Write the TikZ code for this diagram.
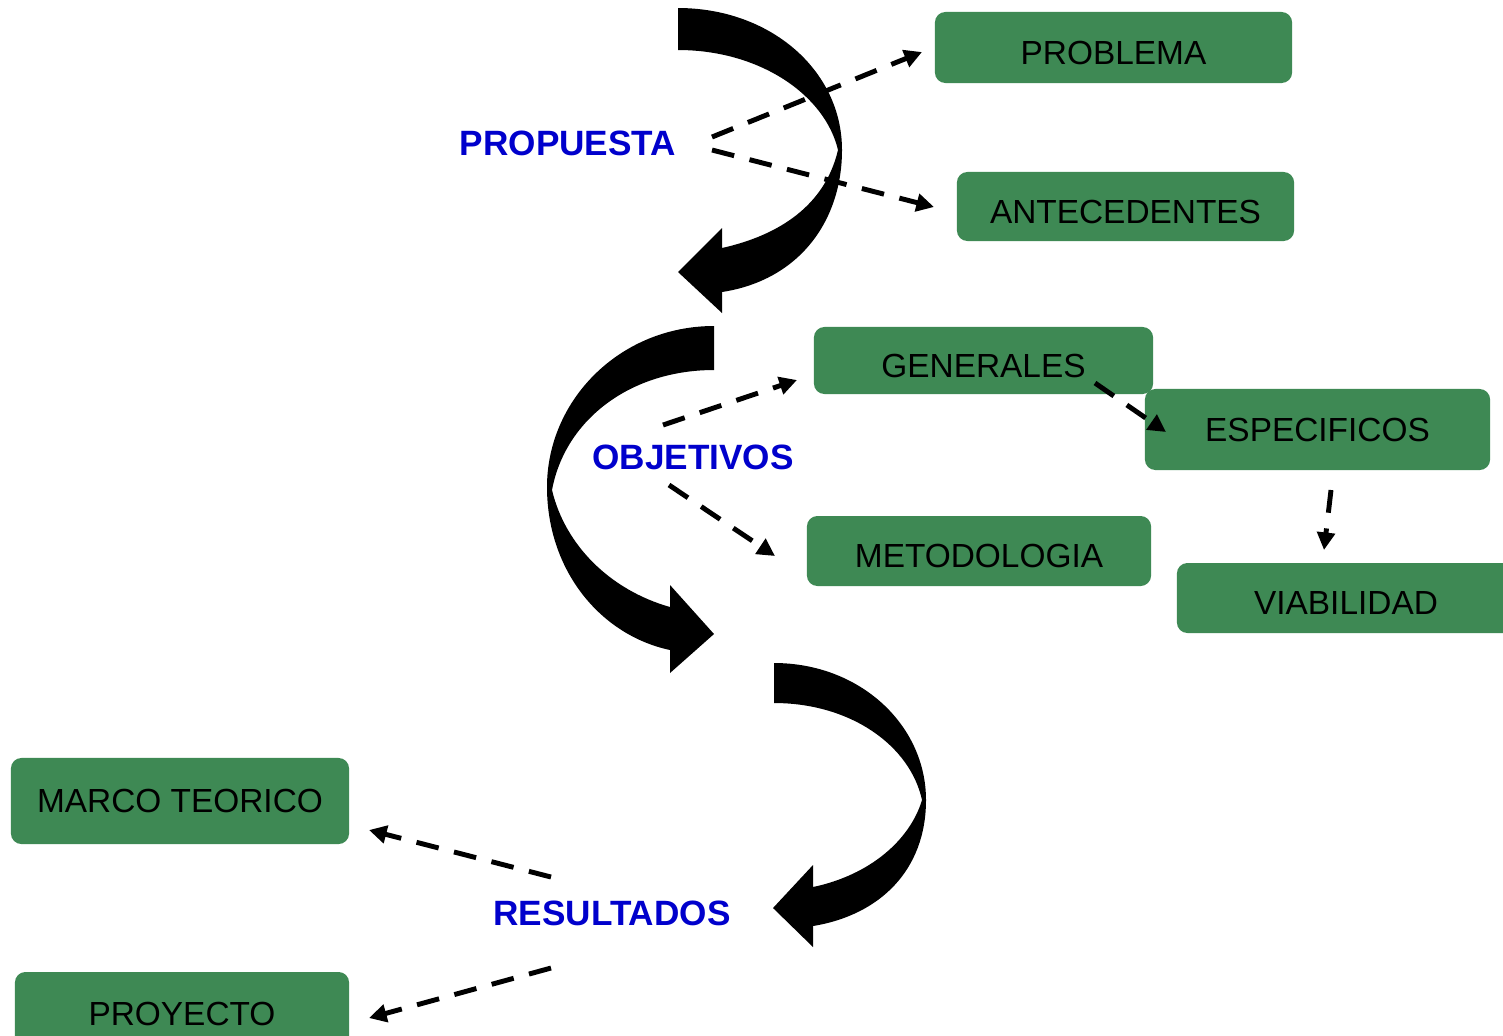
\documentclass[tikz,border=0pt]{standalone}
\usepackage{fontspec}
\setmainfont{Liberation Sans}
\usetikzlibrary{arrows.meta}
\definecolor{boxgreen}{RGB}{62,137,84}
\definecolor{lblblue}{RGB}{0,0,204}
\tikzset{
  box/.style={draw=none, fill=boxgreen, rounded corners=3pt, inner sep=0pt, text=black,
    font=\fontsize{9.5}{12}\selectfont},
  lowtext/.style={text height=9.6pt, text depth=0pt},
  lbl/.style={text=lblblue, inner sep=0pt, font=\fontsize{10}{12}\selectfont\bfseries},
  dasharrow/.style={line width=1.4pt, dash pattern=on 6.5pt off 4.5pt,
    -{Triangle[length=5pt,width=5pt]}},
  bigarrow/.style={fill=black, draw=none}
}
\begin{document}
\begin{tikzpicture}[x=0.01cm,y=-0.01cm]
\useasboundingbox (0,0) rectangle (1503,1035);
\fill[white] (0,0) rectangle (1503,1035);
\clip (0,0) rectangle (1503,1035);

% big curved arrows
\path[bigarrow] (678,8) .. controls (770,8) and (842,70) .. (842,150)
  .. controls (842,220) and (800,280) .. (722,292)
  -- (722,313) -- (678,272) -- (722,228) -- (722,248)
  .. controls (780,235) and (825,205) .. (838,150)
  .. controls (825,95) and (760,50) .. (678,50) -- cycle;
\path[bigarrow] (714,326) .. controls (620,326) and (547,400) .. (547,487)
  .. controls (547,570) and (600,635) .. (670,650)
  -- (670,673) -- (714,634) -- (670,585) -- (670,607)
  .. controls (610,590) and (565,545) .. (552,490)
  .. controls (565,420) and (630,370) .. (714,370) -- cycle;
\path[bigarrow] (774,663) .. controls (860,663) and (926,725) .. (926,800)
  .. controls (926,870) and (880,915) .. (813,926)
  -- (813,947) -- (773,908) -- (813,865) -- (813,887)
  .. controls (870,875) and (910,840) .. (922,800)
  .. controls (910,745) and (850,703) .. (774,703) -- cycle;

% boxes
\node[box, lowtext, minimum width=3.57cm, minimum height=0.71cm] (problema) at (1113.5,47.5) {PROBLEMA};
\node[box, lowtext, minimum width=3.37cm, minimum height=0.69cm] (antecedentes) at (1125.5,206.5) {ANTECEDENTES};
\node[box, lowtext, minimum width=3.39cm, minimum height=0.67cm] (generales) at (983.5,360.5) {GENERALES};
\node[box, minimum width=3.45cm, minimum height=0.81cm] (especificos) at (1317.5,429.5) {ESPECIFICOS};
\node[box, lowtext, minimum width=3.44cm, minimum height=0.70cm] (metodologia) at (979,551) {METODOLOGIA};
\node[box, lowtext, minimum width=3.38cm, minimum height=0.70cm] (viabilidad) at (1346,598) {VIABILIDAD};
\node[box, minimum width=3.38cm, minimum height=0.86cm] (marco) at (180,801) {MARCO TEORICO};
\node[box, minimum width=3.34cm, minimum height=0.84cm] (proyecto) at (182,1014) {PROYECTO};

% labels
\node[lbl] (propuesta) at (568,143) {PROPUESTA};
\node[lbl] (objetivos) at (693,457) {OBJETIVOS};
\node[lbl] (resultados) at (612,913) {RESULTADOS};

% connector end points
\coordinate (propA) at (712,137);
\coordinate (propB) at (712,150);
\coordinate (probIn) at (922,52);
\coordinate (antIn) at (934,207);
\coordinate (objA) at (663,425);
\coordinate (objB) at (669,485);
\coordinate (genIn) at (797,380);
\coordinate (metIn) at (775,556);
\coordinate (genOut) at (1095,383);
\coordinate (espIn) at (1166,432);
\coordinate (espOut) at (1331,490);
\coordinate (viaIn) at (1324,550);
\coordinate (resA) at (551,877);
\coordinate (resB) at (551,968);
\coordinate (marIn) at (369,830);
\coordinate (proIn) at (369,1018);

% dashed connectors
\draw[dasharrow] (propA) -- (probIn);
\draw[dasharrow] (propB) -- (antIn);
\draw[dasharrow] (objA) -- (genIn);
\draw[dasharrow] (objB) -- (metIn);
\draw[dasharrow] (genOut) -- (espIn);
\draw[dasharrow] (espOut) -- (viaIn);
\draw[dasharrow] (resA) -- (marIn);
\draw[dasharrow] (resB) -- (proIn);
\end{tikzpicture}
\end{document}
